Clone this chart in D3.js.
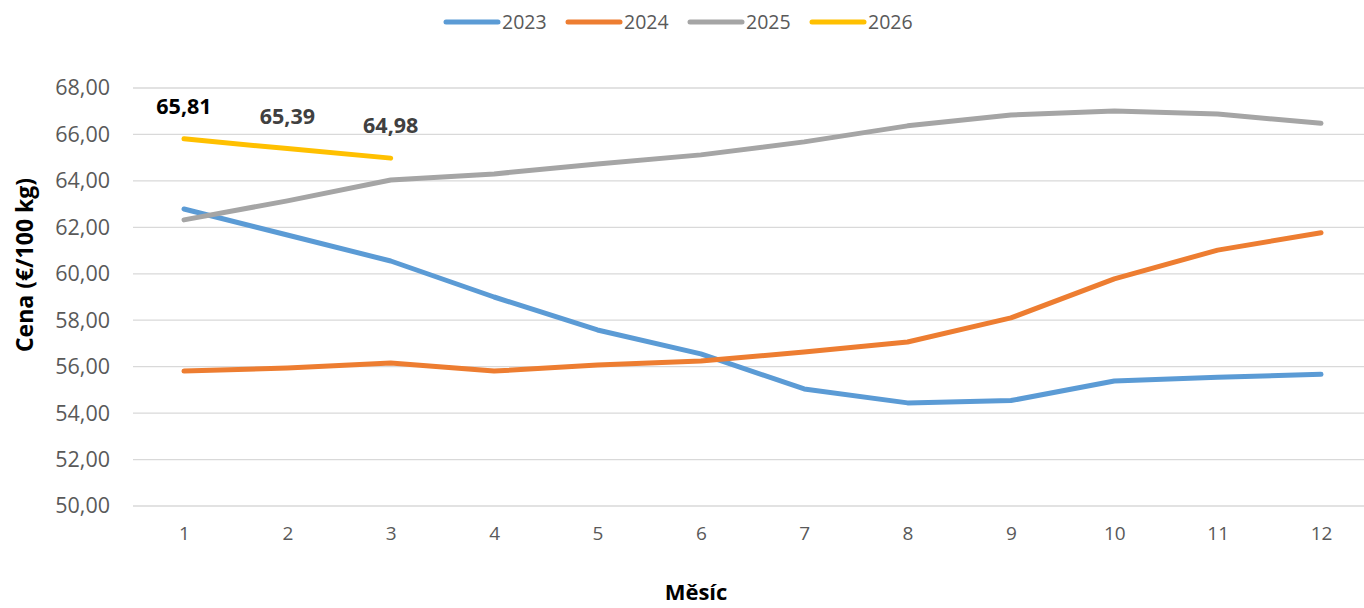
<!DOCTYPE html>
<html><head><meta charset="utf-8">
<script src="https://cdn.jsdelivr.net/npm/d3@7"></script>
<style>body{margin:0;background:#fff;} svg{display:block;font-family:"Open Sans",sans-serif;}</style>
</head><body><svg id="c" width="1364" height="608"></svg>
<script>
const months = [1,2,3,4,5,6,7,8,9,10,11,12];
const yTicks = [50,52,54,56,58,60,62,64,66,68];
const seriesNames = ["2023","2024","2025","2026"];
const colors = ["#5B9BD5","#ED7D31","#A5A5A5","#FFC000"];
const v2023 = [62.79,61.67,60.55,59.00,57.58,56.55,55.04,54.44,54.54,55.38,55.54,55.67];
const v2024 = [55.81,55.94,56.16,55.81,56.07,56.24,56.63,57.06,58.10,59.78,61.02,61.77];
const v2025 = [62.32,63.14,64.04,64.30,64.73,65.12,65.68,66.37,66.84,67.01,66.88,66.48];
const v2026 = [65.81,65.39,64.98];
const data = [v2023,v2024,v2025,v2026];

const svg = d3.select("#c");
const x = d3.scalePoint().domain(months).range([132.3,1372.7]).padding(0.5);
const y = d3.scaleLinear().domain([50,68]).range([506,88]);
const fmt = v => v.toFixed(2).replace(".",",");

// gridlines
svg.append("g").selectAll("line").data(yTicks).join("line")
  .attr("x1",133).attr("x2",1364).attr("y1",d=>y(d)).attr("y2",d=>y(d))
  .attr("stroke","#D9D9D9").attr("stroke-width",1.3);

// y axis labels
const ya = svg.append("g").attr("transform","translate(110,0)")
  .call(d3.axisLeft(y).tickValues(yTicks).tickFormat(fmt).tickSize(0).tickPadding(0));
ya.select(".domain").remove();
ya.selectAll("text").attr("fill","#595959").style("font-size","21.5px").style("font-family","'Open Sans',sans-serif");

// x axis labels
const xa = svg.append("g").attr("transform","translate(0,526)")
  .call(d3.axisBottom(x).tickSize(0).tickPadding(0));
xa.select(".domain").remove();
xa.selectAll("text").attr("fill","#595959").style("font-size","19px").style("font-family","'Open Sans',sans-serif");

// lines
const line = d3.line().x((d,i)=>x(months[i])).y(d=>y(d));
data.forEach((s,k)=>{
  svg.append("path").datum(s).attr("d",line).attr("fill","none")
    .attr("stroke",colors[k]).attr("stroke-width",5)
    .attr("stroke-linecap","round").attr("stroke-linejoin","round");
});

// data labels for 2026
svg.append("g").selectAll("text").data(v2026).join("text")
  .attr("x",(d,i)=>x(months[i])).attr("y",(d,i)=>y(d)-25)
  .attr("text-anchor","middle").attr("font-weight","bold").attr("font-size","21.5px")
  .attr("fill",(d,i)=>i===0?"#000000":"#404040").text(fmt);

// legend
const legX = [446,568,690,812];
const lg = svg.append("g");
seriesNames.forEach((n,k)=>{
  lg.append("line").attr("x1",legX[k]).attr("x2",legX[k]+52).attr("y1",22).attr("y2",22)
    .attr("stroke",colors[k]).attr("stroke-width",5).attr("stroke-linecap","round");
  lg.append("text").attr("x",legX[k]+56).attr("y",29).attr("fill","#595959")
    .attr("font-size","19.5px").text(n);
});

// axis titles
svg.append("text").attr("transform","translate(33,265) rotate(-90)").attr("text-anchor","middle")
  .attr("font-weight","bold").attr("font-size","23px").attr("fill","#000").text("Cena (€/100 kg)");
svg.append("text").attr("x",696).attr("y",600).attr("text-anchor","middle")
  .attr("font-weight","bold").attr("font-size","22px").attr("fill","#000").text("Měsíc");
</script></body></html>
